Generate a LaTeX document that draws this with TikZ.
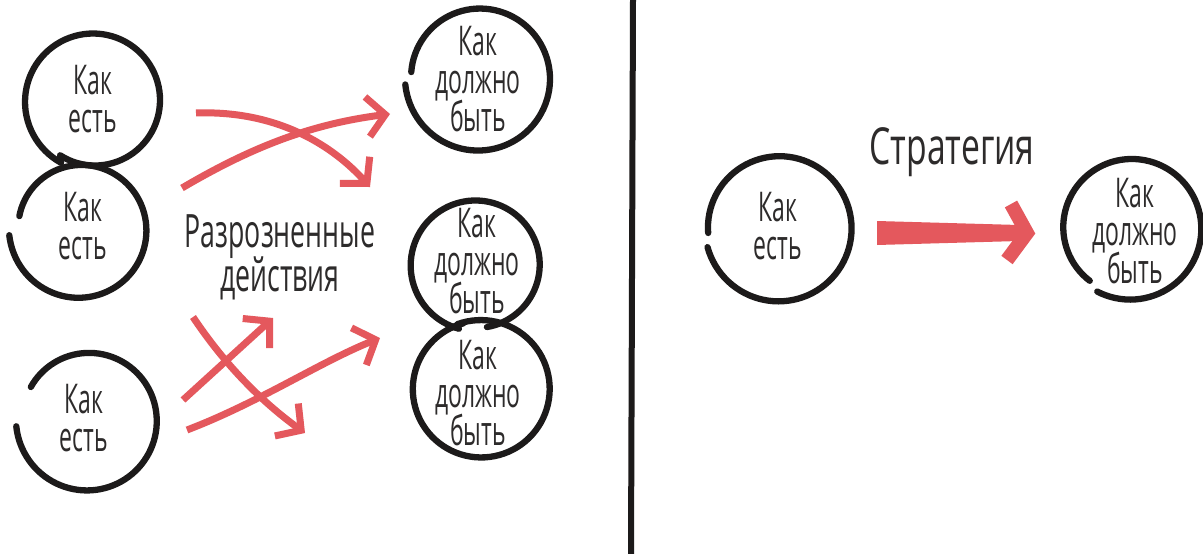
\documentclass[tikz,border=0pt]{standalone}
\usepackage{fontspec}
\setmainfont{Open Sans}[FakeStretch=0.56]
\newfontfamily\actfont{Open Sans}[FakeStretch=0.58]
\newfontfamily\stratfont{Open Sans}[FakeStretch=0.66]
\usetikzlibrary{arrows.meta,calc}
\definecolor{arrowred}{RGB}{228,88,93}
\definecolor{ink}{RGB}{28,26,26}
\definecolor{txt}{RGB}{45,43,43}
\newcommand\tightlines{\lineskiplimit=-30pt\relax}
\tikzset{
 lbl/.style={align=center, font=\fontsize{41}{38}\selectfont\tightlines, text=txt, inner sep=0pt},
 actlbl/.style={align=center, font=\actfont\fontsize{46}{44}\selectfont\tightlines, text=txt, inner sep=0pt},
 stratlbl/.style={align=center, font=\stratfont\fontsize{51}{50}\selectfont, text=txt, inner sep=0pt},
 ring/.style={line width=6.3pt, draw=ink, line cap=round},
 act/.style={draw=arrowred, line width=7pt, -{Straight Barb[length=18pt,width=40pt]}},
}
\newcommand\hring[5]{%
 \draw[ring, shift={(#1)}] plot[domain=#3:#4, samples=90, variable=\t]
  ({(#2+(#5)*(\t-(#3))/((#4)-(#3)))*cos(\t)},{(#2+(#5)*(\t-(#3))/((#4)-(#3)))*sin(\t)});}
\begin{document}
\begin{tikzpicture}[x=1pt,y=-1pt]
\useasboundingbox[fill=white] (0,0) rectangle (1203,554);
% left panel nodes
\node[lbl] (L1) at (93,99) {Как\\есть};
\node[lbl] (L2) at (83,226) {Как\\есть};
\node[lbl] (L3) at (84,418) {Как\\есть};
\node[lbl] (R1) at (478,79) {Как\\должно\\быть};
\node[lbl] (R2) at (477,261) {Как\\должно\\быть};
\node[lbl] (R3) at (478,393) {Как\\должно\\быть};
\node[actlbl] (DA) at (280,257) {Разрозненные\\действия};
% rings
\coordinate (cL1) at (94,101);
\coordinate (cL2) at (80,229);
\coordinate (cL3) at (88,420);
\coordinate (cR1) at (479,78);
\coordinate (cR2) at (476,265);
\coordinate (cR3) at (481,389);
\hring{cL1}{70}{118}{482}{-6}
\hring{cL2}{62}{192}{535}{9}
\hring{cL3}{66}{210}{535}{6}
\hring{cR1}{68}{185}{535}{6}
\hring{cR2}{66}{105}{440}{-3}
\hring{cR3}{69}{250}{615}{-1}
% scattered actions
\coordinate (a1s) at (196,113); \coordinate (a1e) at (370,187);
\coordinate (a2s) at (182,188); \coordinate (a2e) at (390,114);
\coordinate (a3s) at (183,400); \coordinate (a3e) at (273,318);
\coordinate (a4s) at (193,317); \coordinate (a4e) at (305,433);
\coordinate (a5s) at (187,430); \coordinate (a5e) at (380,338);
\draw[act] (a1s) .. controls (280,110) and (335,148) .. (a1e);
\draw[act] (a2s) .. controls (250,148) and (310,124) .. (a2e);
\draw[act] (a3s) -- (a3e);
\draw[act] (a4s) .. controls (225,365) and (262,402) .. (a4e);
\draw[act] (a5s) .. controls (260,402) and (320,362) .. (a5e);
% divider
\draw[line width=6pt, ink] (633,0) -- (631,554);
% right panel
\node[lbl] (P1) at (778,226) {Как\\есть};
\node[lbl] (P2) at (1135,231) {Как\\должно\\быть};
\node[stratlbl] (ST) at (952,152) {Стратегия};
\coordinate (cP1) at (779,228);
\coordinate (cP2) at (1131,228);
\hring{cP1}{71}{176}{525}{3}
\hring{cP2}{67}{128}{478}{5}
\coordinate (st) at (877,233);
\coordinate (se) at (1027,233);
\fill[arrowred] ($(st)+(0,-12)$) -- ($(se)+(-8,-8)$) -- ($(se)+(-8,8)$) -- ($(st)+(0,12)$) -- cycle;
\draw[arrowred, line width=14pt] ($(se)+(-16,-29)$) -- (se) -- ($(se)+(-20,27)$);
\end{tikzpicture}
\end{document}
